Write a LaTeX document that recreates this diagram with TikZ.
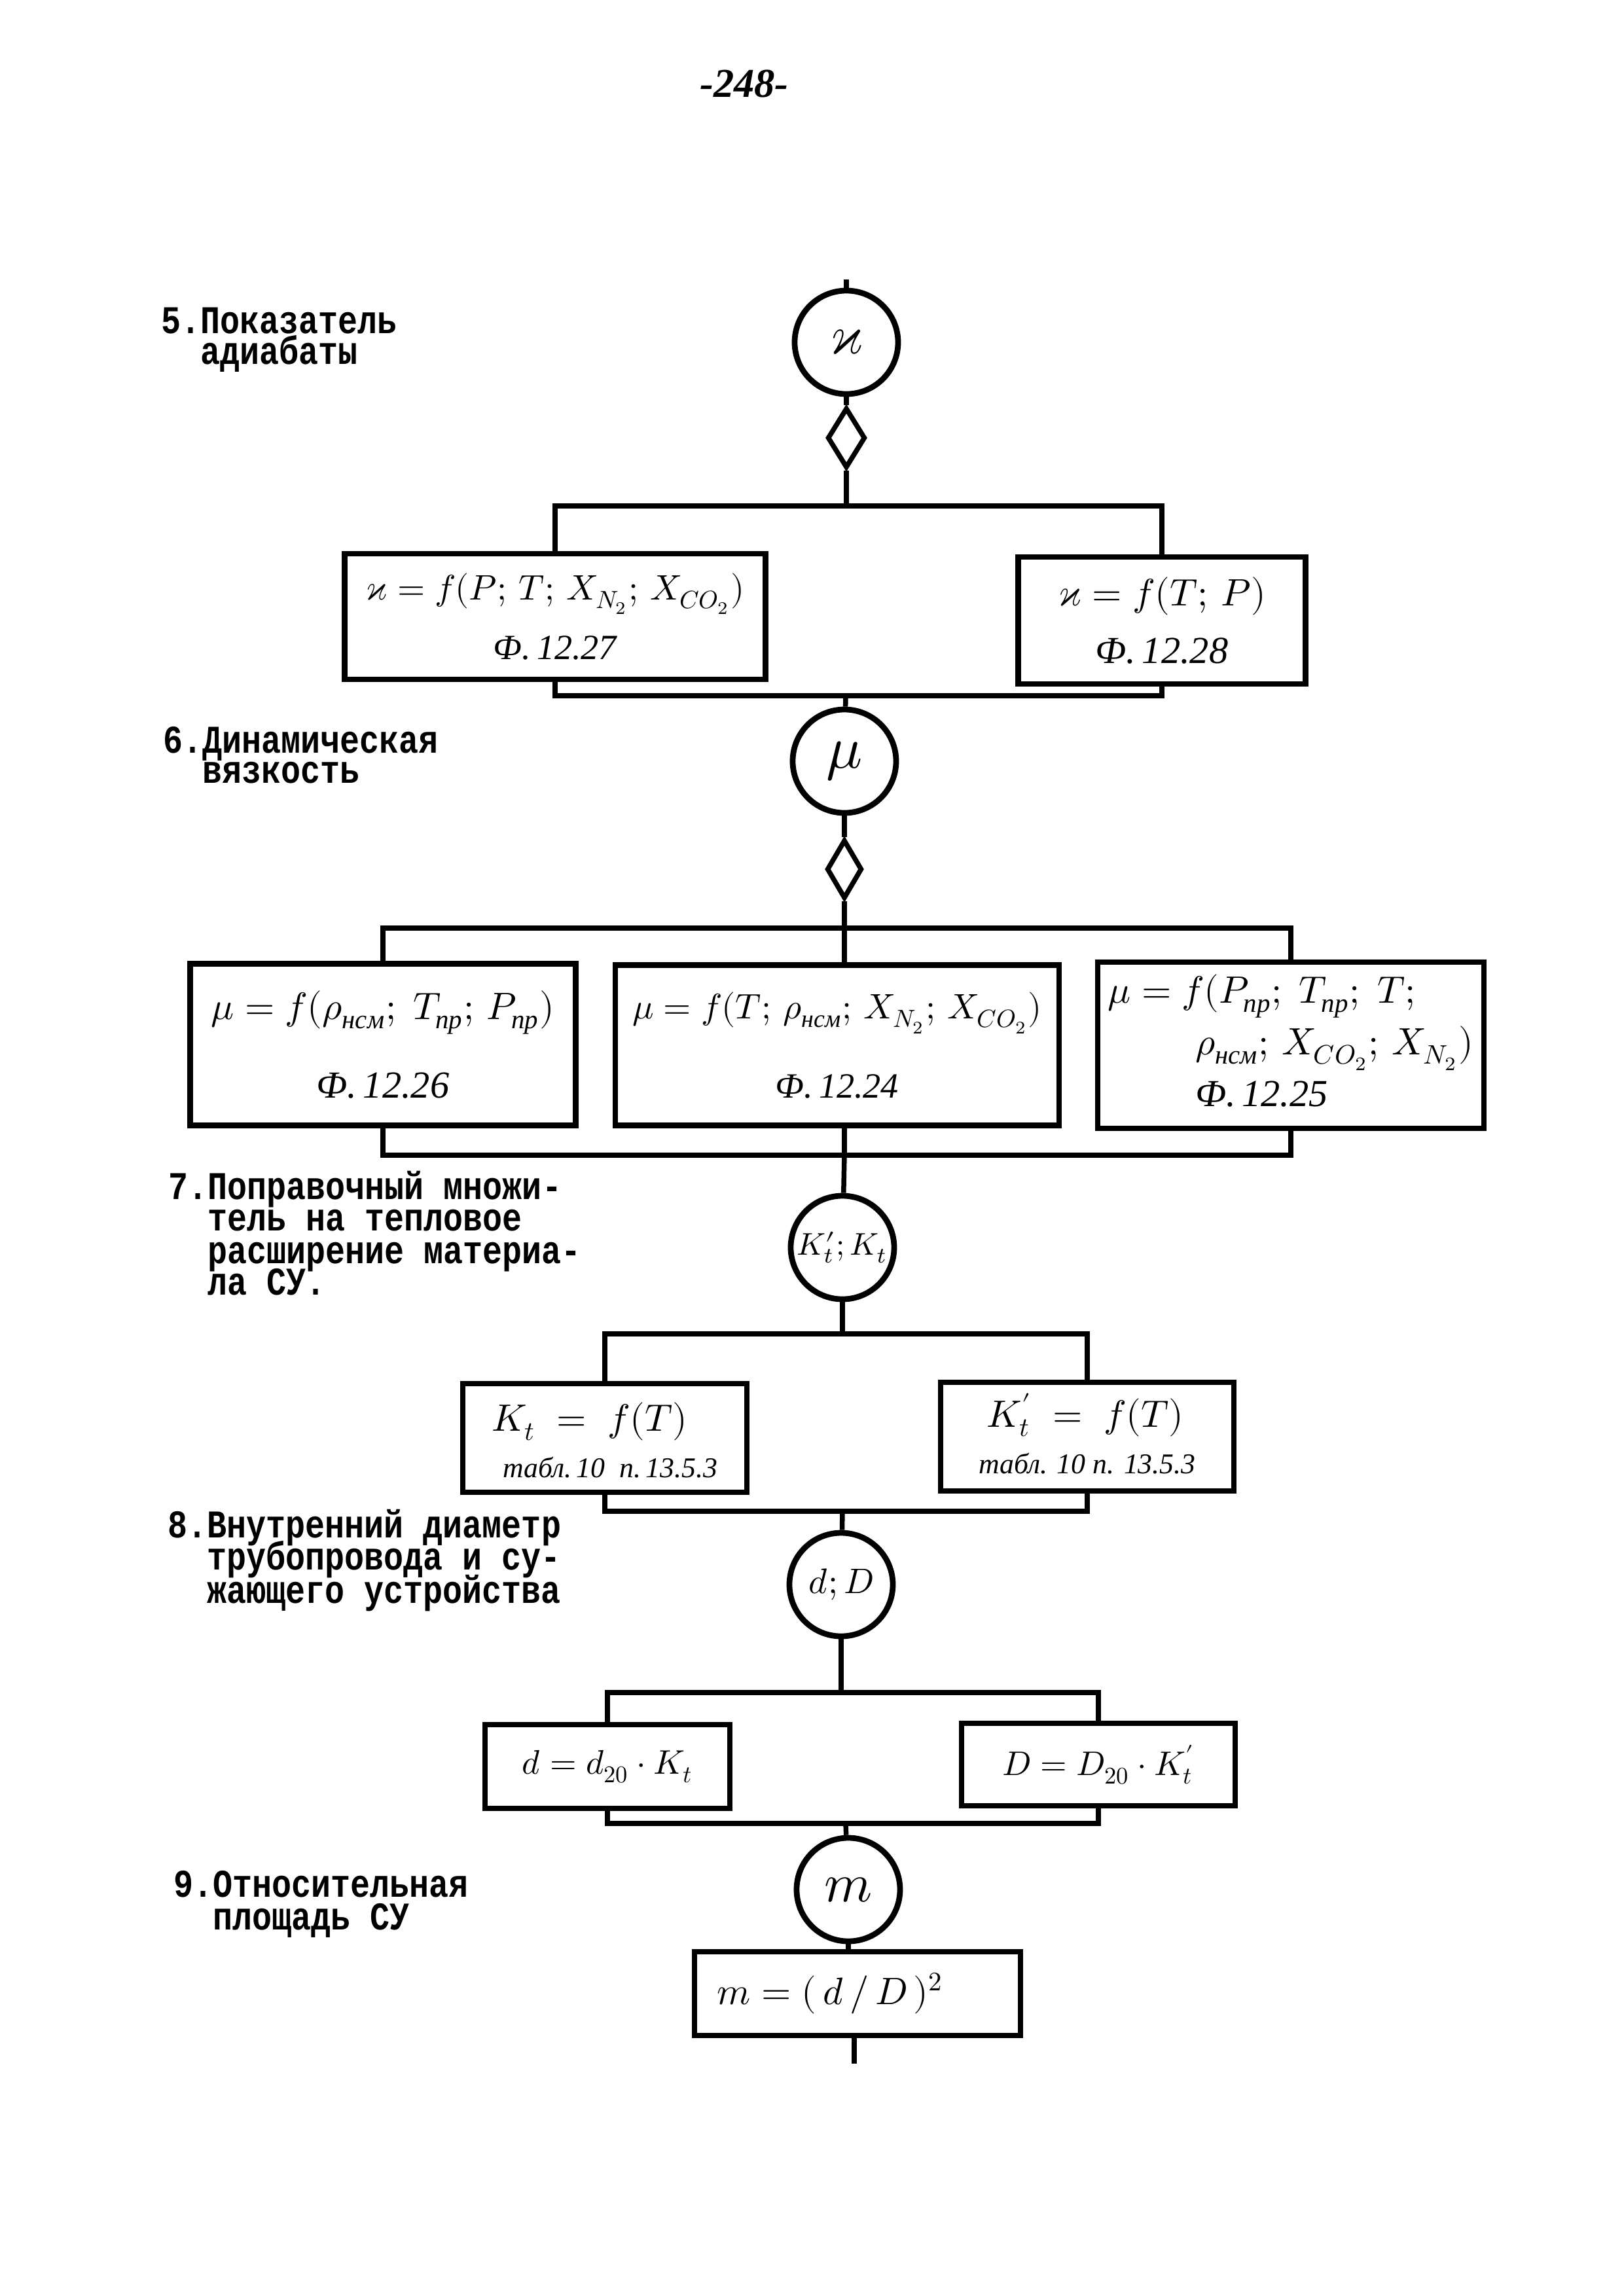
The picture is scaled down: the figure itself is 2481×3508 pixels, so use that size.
\documentclass[tikz,border=0pt]{standalone}
\usepackage{amsmath}
\usepackage{fontspec}
\usepackage{unicode-math}
\setmathfont{Latin Modern Math}
\setmonofont{Liberation Mono}
\newfontfamily\cyrfont{Liberation Serif}
\usepackage{graphicx}
\usetikzlibrary{shapes.geometric}
\newlength\pxu \setlength\pxu{0.23993pt}
\newcommand\tw[1]{\scalebox{1}[1.2]{#1}}
\newcommand\cs[1]{\text{\cyrfont\itshape #1}}
\begin{document}
\begin{tikzpicture}[x=0.23993pt,y=-0.23993pt,
  conn/.style={line width=1.8pt},
  boxst/.style={draw,line width=2.1pt,inner sep=0pt,font=\cyrfont\itshape\fontsize{14}{17}\selectfont},
  circst/.style={draw,circle,line width=2.1pt,minimum size=158\pxu,inner sep=0pt},
  diast/.style={draw,diamond,line width=1.8pt,minimum width=58\pxu,minimum height=92\pxu,inner sep=0pt},
  lbl/.style={anchor=base west,inner sep=0pt,font=\ttfamily\bfseries\fontsize{12}{14}\selectfont},
  pagest/.style={font=\cyrfont\itshape\bfseries\fontsize{15}{18}\selectfont}
]
\useasboundingbox[fill=white] (0,0) rectangle (2481,3508);

\node[pagest] (pg) at (1137,128) {-248-};

% ---------- labels
\node[lbl] (l5a) at (246,509) {\tw{5.Показатель}};
\node[lbl] (l5b) at (306,556) {\tw{адиабаты}};
\node[lbl] (l6a) at (249,1150) {\tw{6.Динамическая}};
\node[lbl] (l6b) at (309,1196) {\tw{вязкость}};
\node[lbl] (l7a) at (257,1832) {\tw{7.Поправочный множи-}};
\node[lbl] (l7b) at (317,1880) {\tw{тель на тепловое}};
\node[lbl] (l7c) at (317,1930) {\tw{расширение материа-}};
\node[lbl] (l7d) at (317,1978) {\tw{ла СУ.}};
\node[lbl] (l8a) at (256,2349) {\tw{8.Внутренний диаметр}};
\node[lbl] (l8b) at (316,2398) {\tw{трубопровода и су-}};
\node[lbl] (l8c) at (316,2449) {\tw{жающего устройства}};
\node[lbl] (l9a) at (265,2898) {\tw{9.Относительная}};
\node[lbl] (l9b) at (325,2948) {\tw{площадь СУ}};

% ---------- section 5
\coordinate (top5) at (1293,427);
\node[circst] (c5) at (1293,523) {\fontsize{20}{24}\selectfont$\varkappa$};
\node[diast] (d5) at (1293,669) {};
\coordinate (j5) at (1293,773);
\node[boxst,minimum width=643\pxu,minimum height=192\pxu,align=center,
      font=\cyrfont\itshape\fontsize{13}{16}\selectfont] (b5l) at (848,942)
  {$\varkappa = f(P;\,T;\,X_{N_2};\,X_{CO_2})$\\[6pt] Ф.\,12.27};
\node[boxst,minimum width=439\pxu,minimum height=194\pxu,align=center] (b5r) at (1775,948)
  {$\varkappa = f(T;\,P)$\\[4pt] Ф.\,12.28};
\coordinate (k5) at (1292,1063);
\draw[conn] (top5) -- (c5);
\draw[conn] (c5) -- (d5);
\draw[conn] (d5) -- (j5);
\draw[conn] (b5l.north) |- (j5) -| (b5r.north);
\draw[conn] (b5l.south) |- (k5) -| (b5r.south);

% ---------- section 6
\node[circst] (c6) at (1290,1163) {\fontsize{22}{26}\selectfont$\mu$};
\node[diast,minimum width=54\pxu,minimum height=90\pxu] (d6) at (1290,1328) {};
\coordinate (j6) at (1290,1418);
\node[boxst,minimum width=589\pxu,minimum height=247\pxu,align=center] (b6a) at (585,1596)
  {$\mu = f(\rho_{\cs{нсм}};\;T_{\cs{пр}};\,P_{\cs{пр}})$\\[12pt] Ф.\,12.26};
\node[boxst,minimum width=678\pxu,minimum height=245\pxu,align=center,
      font=\cyrfont\itshape\fontsize{13}{16}\selectfont] (b6b) at (1279,1597)
  {$\mu = f(T;\,\rho_{\cs{нсм}};\,X_{N_2};\,X_{CO_2})$\\[13pt] Ф.\,12.24};
\node[boxst,minimum width=590\pxu,minimum height=254\pxu] (b6c) at (1972,1597)
  {\begin{tabular}{@{}l@{}}
   $\mu = f(P_{\cs{пр}};\;T_{\cs{пр}};\;T;$\\[2pt]
   \hspace*{32pt}$\rho_{\cs{нсм}};\,X_{CO_2};\,X_{N_2})$\\[2pt]
   \hspace*{32pt}Ф.\,12.25
   \end{tabular}};
\coordinate (k6) at (1290,1765);
\draw[conn] (k5) -- (c6);
\draw[conn] (c6) -- (d6);
\draw[conn] (d6.south) -- (d6.south |- b6b.north);
\draw[conn] (b6a.north) |- (j6) -| (b6c.north);
\draw[conn] (b6a.south) |- (k6) -| (b6c.south);
\draw[conn] (k6 |- b6b.south) -- (k6);

% ---------- section 7
\node[circst] (c7) at (1287,1906) {\fontsize{11.5}{14}\selectfont$K'_t;K_t$};
\coordinate (j7) at (1287,2038);
\node[boxst,minimum width=434\pxu,minimum height=166\pxu] (b7l) at (924,2197)
  {\begin{tabular}{@{}l@{}}
   \rule{0pt}{17pt}$K_t\;=\;f(T)$\\
   \hspace*{4pt}{\fontsize{10.5}{12}\selectfont табл.\,10 \ п.\,13.5.3}
   \end{tabular}};
\node[boxst,minimum width=448\pxu,minimum height=166\pxu] (b7r) at (1661,2195)
  {\begin{tabular}{@{}l@{}}
   \rule{0pt}{15pt}\hspace*{3pt}$K'_t\;=\;f(T)$\\
   {\fontsize{10.5}{12}\selectfont табл. 10 п. 13.5.3}
   \end{tabular}};
\coordinate (k7) at (1287,2309);
\draw[conn] (k6) -- (c7);
\draw[conn] (c7) -- (j7);
\draw[conn] (b7l.north) |- (j7) -| (b7r.north);
\draw[conn] (b7l.south) |- (k7) -| (b7r.south);

% ---------- section 8
\node[circst] (c8) at (1285,2421) {\fontsize{13}{16}\selectfont$d;D$};
\coordinate (j8) at (1285,2586);
\node[boxst,minimum width=374\pxu,minimum height=128\pxu,
      font=\fontsize{12.5}{15}\selectfont] (b8l) at (928,2699) {$d = d_{20}\cdot K_t$};
\node[boxst,minimum width=418\pxu,minimum height=126\pxu,
      font=\fontsize{12.5}{15}\selectfont] (b8r) at (1678,2696) {$D = D_{20}\cdot K'_t$};
\coordinate (k8) at (1292,2786);
\draw[conn] (k7) -- (c8);
\draw[conn] (c8) -- (j8);
\draw[conn] (b8l.north) |- (j8) -| (b8r.north);
\draw[conn] (b8l.south) |- (k8) -| (b8r.south);

% ---------- section 9
\node[circst] (c9) at (1296,2887) {\fontsize{20}{24}\selectfont$m$};
\node[boxst,minimum width=498\pxu,minimum height=128\pxu,
      font=\fontsize{14}{17}\selectfont] (b9) at (1310,3046)
  {$m = (\,d\,/\,D\,)^2$\hspace*{20pt}};
\coordinate (end9) at (1305,3153);
\draw[conn] (k8) -- (c9);
\draw[conn] (c9.south) -- (c9.south |- b9.north);
\draw[conn] (b9.south -| end9) -- (end9);
\end{tikzpicture}
\end{document}
